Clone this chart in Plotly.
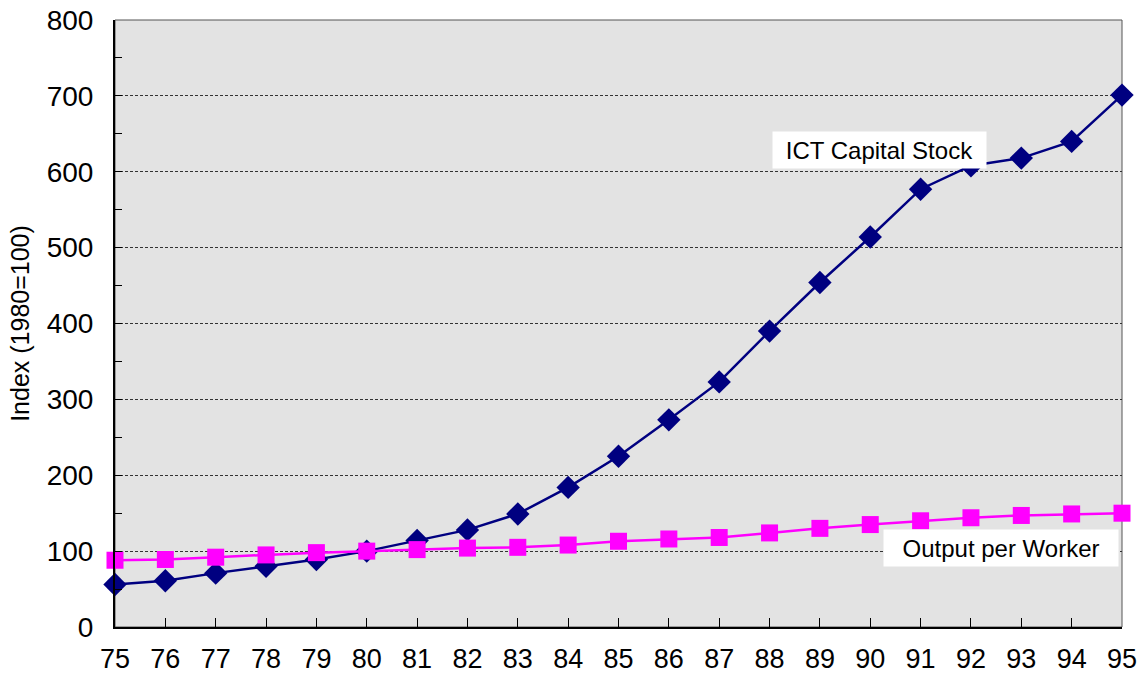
import plotly.graph_objects as go

# Years (two-digit labels) and index series, 1980 = 100
years = [75, 76, 77, 78, 79, 80, 81, 82, 83, 84, 85, 86, 87, 88, 89, 90, 91, 92, 93, 94, 95]
year_labels = [str(y) for y in years]
ict_capital_stock = [56, 61, 71, 80, 89, 100, 114, 128, 149, 184, 225, 273, 323, 390, 454,
                     514, 577, 608, 618, 640, 701]
output_per_worker = [88, 89, 92, 95, 98, 100, 102, 104, 105, 108, 113, 116, 118, 124, 130,
                     135, 140, 144, 147, 149, 150]
y_ticks = [0, 100, 200, 300, 400, 500, 600, 700, 800]

FONT = "Liberation Sans, Arial, sans-serif"

fig = go.Figure()

fig.add_trace(go.Scatter(
    x=years, y=ict_capital_stock, mode="lines+markers", name="ICT Capital Stock",
    line=dict(color="#000080", width=2.5),
    marker=dict(symbol="diamond", size=18, color="#000080"),
    cliponaxis=False,
))
fig.add_trace(go.Scatter(
    x=years, y=output_per_worker, mode="lines+markers", name="Output per Worker",
    line=dict(color="#FF00FF", width=2.5),
    marker=dict(symbol="square", size=17, color="#FF00FF"),
    cliponaxis=False,
))

# Series labels in white boxes
fig.add_annotation(x=90.18, y=629, text="ICT Capital Stock", showarrow=False,
                   font=dict(family=FONT, size=24, color="black"),
                   bgcolor="white", width=211, height=34, borderpad=1)
fig.add_annotation(x=92.6, y=104.5, text="Output per Worker", showarrow=False,
                   font=dict(family=FONT, size=24, color="black"),
                   bgcolor="white", width=232, height=34, borderpad=1)

# Thin frame around the plotting area
fig.add_shape(type="rect", xref="paper", yref="paper", x0=0, y0=0, x1=1, y1=1,
              line=dict(color="#555555", width=1), layer="below")

fig.update_layout(
    width=1142, height=677,
    margin=dict(l=115, r=20, t=20, b=50, autoexpand=False),
    paper_bgcolor="white",
    plot_bgcolor="#e3e3e3",
    showlegend=False,
    font=dict(family=FONT, size=28, color="black"),
    xaxis=dict(
        range=[75, 95], tickmode="array", tickvals=years, ticktext=year_labels,
        ticks="inside", ticklen=9, tickwidth=1, tickcolor="black",
        showline=True, linecolor="black", linewidth=2,
        showgrid=False, zeroline=False, automargin=False,
        tickfont=dict(family=FONT, size=27),
        ticklabelstandoff=7,
    ),
    yaxis=dict(
        range=[0, 800], tickmode="array", tickvals=y_ticks,
        ticks="inside", ticklen=7, tickwidth=1, tickcolor="black",
        showline=True, linecolor="black", linewidth=2,
        showgrid=True, gridcolor="#333333", gridwidth=1, griddash="3px,2px",
        zeroline=False, automargin=False,
        tickfont=dict(family=FONT, size=28),
        ticklabelstandoff=14,
        minor=dict(dtick=50, tick0=0, ticks="inside", ticklen=7, tickwidth=1,
                   tickcolor="black", showgrid=False),
        title=dict(text="Index (1980=100)", font=dict(family=FONT, size=25), standoff=10),
    ),
)

fig.write_html("out.html")
